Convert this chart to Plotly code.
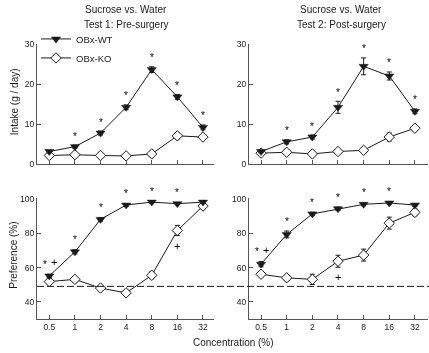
import math
import plotly.graph_objects as go

conc = [0.5, 1, 2, 4, 8, 16, 32]
tick_labels = ["0.5", "1", "2", "4", "8", "16", "32"]

# Intake (g/day)
intake1_wt = [3.2, 4.4, 7.8, 14.2, 23.6, 16.8, 9.2]
intake1_wt_sem = [0.3, 0.4, 0.5, 0.6, 0.7, 0.6, 0.6]
intake1_ko = [2.2, 2.4, 2.2, 2.1, 2.6, 7.1, 6.8]
intake1_ko_sem = [0.3, 0.3, 0.3, 0.3, 0.4, 0.8, 0.5]

intake2_wt = [3.2, 5.6, 6.8, 14.2, 24.4, 22.0, 13.2]
intake2_wt_sem = [0.3, 0.5, 0.5, 1.5, 2.1, 1.0, 0.6]
intake2_ko = [2.8, 3.0, 2.6, 3.2, 3.5, 6.8, 9.0]
intake2_ko_sem = [0.3, 0.3, 0.3, 0.4, 0.4, 1.0, 0.6]

# Preference (%)
pref1_wt = [55.1, 69.2, 88.2, 96.6, 98.3, 97.4, 98.3]
pref1_wt_sem = [1.0, 1.2, 1.0, 0.8, 0.5, 0.5, 0.5]
pref1_ko = [51.8, 53.1, 48.0, 45.2, 55.5, 81.7, 96.0]
pref1_ko_sem = [1.5, 1.5, 1.5, 1.5, 2.0, 3.0, 1.5]

pref2_wt = [62.0, 79.4, 91.4, 94.4, 97.0, 97.8, 96.6]
pref2_wt_sem = [1.5, 2.0, 1.0, 1.0, 0.8, 0.8, 0.8]
pref2_ko = [56.1, 54.0, 53.1, 63.7, 67.3, 86.0, 92.3]
pref2_ko_sem = [1.5, 1.5, 3.0, 3.5, 3.5, 3.5, 2.0]

chance_level = 49

# significance marks (indices into conc)
stars_intake1 = [1, 2, 3, 4, 5, 6]
stars_intake2 = [1, 2, 3, 4, 5, 6]
stars_pref1 = [0, 1, 2, 3, 4, 5]
stars_pref2 = [0, 1, 2, 3, 4, 5]
plus_top_pref1 = [0]
plus_top_pref2 = [0]
plus_low_pref1 = [5]
plus_low_pref2 = [3]

titles = [["Sucrose vs. Water", "Test 1: Pre-surgery"],
          ["Sucrose vs. Water", "Test 2: Post-surgery"]]

FONT = "Liberation Sans, Arial, Helvetica, sans-serif"
INK = "#000000"
DARK = "#1a1a1a"
AX = "#555555"
W, H = 429, 353

fig = go.Figure()

panels = [
    ("x", "y", intake1_wt, intake1_wt_sem, intake1_ko, intake1_ko_sem, True),
    ("x2", "y2", intake2_wt, intake2_wt_sem, intake2_ko, intake2_ko_sem, False),
    ("x3", "y3", pref1_wt, pref1_wt_sem, pref1_ko, pref1_ko_sem, False),
    ("x4", "y4", pref2_wt, pref2_wt_sem, pref2_ko, pref2_ko_sem, False),
]

for xa, ya, wt, wts, ko, kos, leg in panels:
    fig.add_trace(go.Scatter(
        x=conc, y=ko, xaxis=xa, yaxis=ya, mode="lines+markers",
        name="OBx-KO", showlegend=leg, legendrank=2,
        line=dict(color=DARK, width=1),
        marker=dict(symbol="diamond", size=8, color="white",
                    line=dict(color=DARK, width=1)),
        error_y=dict(type="data", array=kos, color=DARK, thickness=1, width=2.5),
    ))
    fig.add_trace(go.Scatter(
        x=conc, y=wt, xaxis=xa, yaxis=ya, mode="lines+markers",
        name="OBx-WT", showlegend=leg, legendrank=1,
        line=dict(color=DARK, width=1),
        marker=dict(symbol="triangle-down", size=8, color=DARK,
                    line=dict(color=DARK, width=0.5)),
        error_y=dict(type="data", array=wts, color=DARK, thickness=1, width=2.5),
    ))

L2 = math.log10(2)
lo, hi = math.log10(conc[0]), math.log10(conc[-1])
left_dom = [37 / W, 214 / W]
right_dom = [249 / W, 428 / W]
left_rng = [lo - 0.48 * L2, hi + 0.43 * L2]
right_rng = [lo - 0.47 * L2, hi + 0.51 * L2]
top_dom = [1 - 164 / H, 1 - 40 / H]
bot_dom = [1 - 323 / H, 1 - 199 / H]

xcommon = dict(type="log", tickmode="array", tickvals=conc, ticktext=tick_labels,
               ticks="inside", ticklen=4, tickwidth=1, tickcolor=AX,
               showline=True, linecolor=AX, linewidth=1, showgrid=False,
               zeroline=False, tickfont=dict(family=FONT, size=8.5, color=DARK))
ycommon = dict(ticks="inside", ticklen=4, tickwidth=1, tickcolor=AX,
               showline=True, linecolor=AX, linewidth=1, showgrid=False,
               zeroline=False, tickfont=dict(family=FONT, size=8.5, color=DARK))

fig.update_layout(
    width=W, height=H, margin=dict(l=0, r=0, t=0, b=0),
    paper_bgcolor="white", plot_bgcolor="white",
    font=dict(family=FONT, color=DARK),
    xaxis=dict(xcommon, domain=left_dom, range=left_rng, anchor="y", showticklabels=False),
    xaxis2=dict(xcommon, domain=right_dom, range=right_rng, anchor="y2", showticklabels=False),
    xaxis3=dict(xcommon, domain=left_dom, range=left_rng, anchor="y3"),
    xaxis4=dict(xcommon, domain=right_dom, range=right_rng, anchor="y4"),
    yaxis=dict(ycommon, domain=top_dom, range=[0, 30], tickvals=[0, 10, 20, 30], anchor="x"),
    yaxis2=dict(ycommon, domain=top_dom, range=[0, 30], tickvals=[0, 10, 20, 30], anchor="x2"),
    yaxis3=dict(ycommon, domain=bot_dom, range=[30, 100.5], tickvals=[40, 60, 80, 100], anchor="x3"),
    yaxis4=dict(ycommon, domain=bot_dom, range=[30, 100.5], tickvals=[40, 60, 80, 100], anchor="x4"),
    legend=dict(x=36 / W, y=1 - 20 / H, xanchor="left", yanchor="top",
                bgcolor="rgba(0,0,0,0)", font=dict(family=FONT, size=9.5, color=DARK),
                tracegroupgap=0, itemwidth=30),
    showlegend=True,
)

# chance line
fig.add_shape(type="line", xref="paper", yref="y3", x0=37 / W, x1=1.0,
              y0=chance_level, y1=chance_level,
              line=dict(color=DARK, width=1, dash="7px,3px"))

ann = []
def mark(xa, ya, idx, yval, text, yshift, xshift=0, size=10):
    ann.append(dict(xref=xa, yref=ya, x=math.log10(conc[idx]), y=yval, text=text,
                    showarrow=False, xanchor="center", yanchor="middle",
                    yshift=yshift, xshift=xshift,
                    font=dict(family=FONT, size=size, color=INK)))

for idxs, xa, ya, wt, wts in [(stars_intake1, "x", "y", intake1_wt, intake1_wt_sem),
                              (stars_intake2, "x2", "y2", intake2_wt, intake2_wt_sem)]:
    for i in idxs:
        mark(xa, ya, i, wt[i] + wts[i], "*", 9)

for idxs, ptop, plow, xa, ya, wt, wts, ko, kos in [
        (stars_pref1, plus_top_pref1, plus_low_pref1, "x3", "y3", pref1_wt, pref1_wt_sem, pref1_ko, pref1_ko_sem),
        (stars_pref2, plus_top_pref2, plus_low_pref2, "x4", "y4", pref2_wt, pref2_wt_sem, pref2_ko, pref2_ko_sem)]:
    for i in idxs:
        dx = -4 if i in ptop else 0
        mark(xa, ya, i, wt[i] + wts[i], "*", 10, xshift=dx)
    for i in ptop:
        mark(xa, ya, i, wt[i] + wts[i], "+", 12, xshift=5, size=11)
    for i in plow:
        mark(xa, ya, i, ko[i] - kos[i], "+", -10, size=11)

# panel titles
for k, cx in enumerate([126 / W, 341 / W]):
    for j, yy in enumerate([5, 20]):
        ann.append(dict(xref="paper", yref="paper", x=cx, y=1 - yy / H, text=titles[k][j],
                        showarrow=False, xanchor="center", yanchor="middle",
                        font=dict(family=FONT, size=10, color=DARK)))

# axis titles
ann.append(dict(xref="paper", yref="paper", x=14 / W, y=1 - 100 / H, text="Intake (g / day)",
                textangle=-90, showarrow=False, xanchor="center", yanchor="middle",
                font=dict(family=FONT, size=10, color=DARK)))
ann.append(dict(xref="paper", yref="paper", x=14 / W, y=1 - 258 / H, text="Preference (%)",
                textangle=-90, showarrow=False, xanchor="center", yanchor="middle",
                font=dict(family=FONT, size=10, color=DARK)))
ann.append(dict(xref="paper", yref="paper", x=233 / W, y=1 - 347 / H, text="Concentration (%)",
                showarrow=False, xanchor="center", yanchor="middle",
                font=dict(family=FONT, size=10, color=DARK)))

fig.update_layout(annotations=ann)
fig.write_html(
    "out.html", config={"displayModeBar": False},
    post_script=("document.body.style.margin='0';document.body.style.padding='0';"
                 "document.body.style.overflow='hidden';"
                 "document.querySelectorAll('.plotly-graph-div').forEach(function(d){"
                 "d.style.willChange='transform';d.style.webkitFontSmoothing='antialiased';});"))
